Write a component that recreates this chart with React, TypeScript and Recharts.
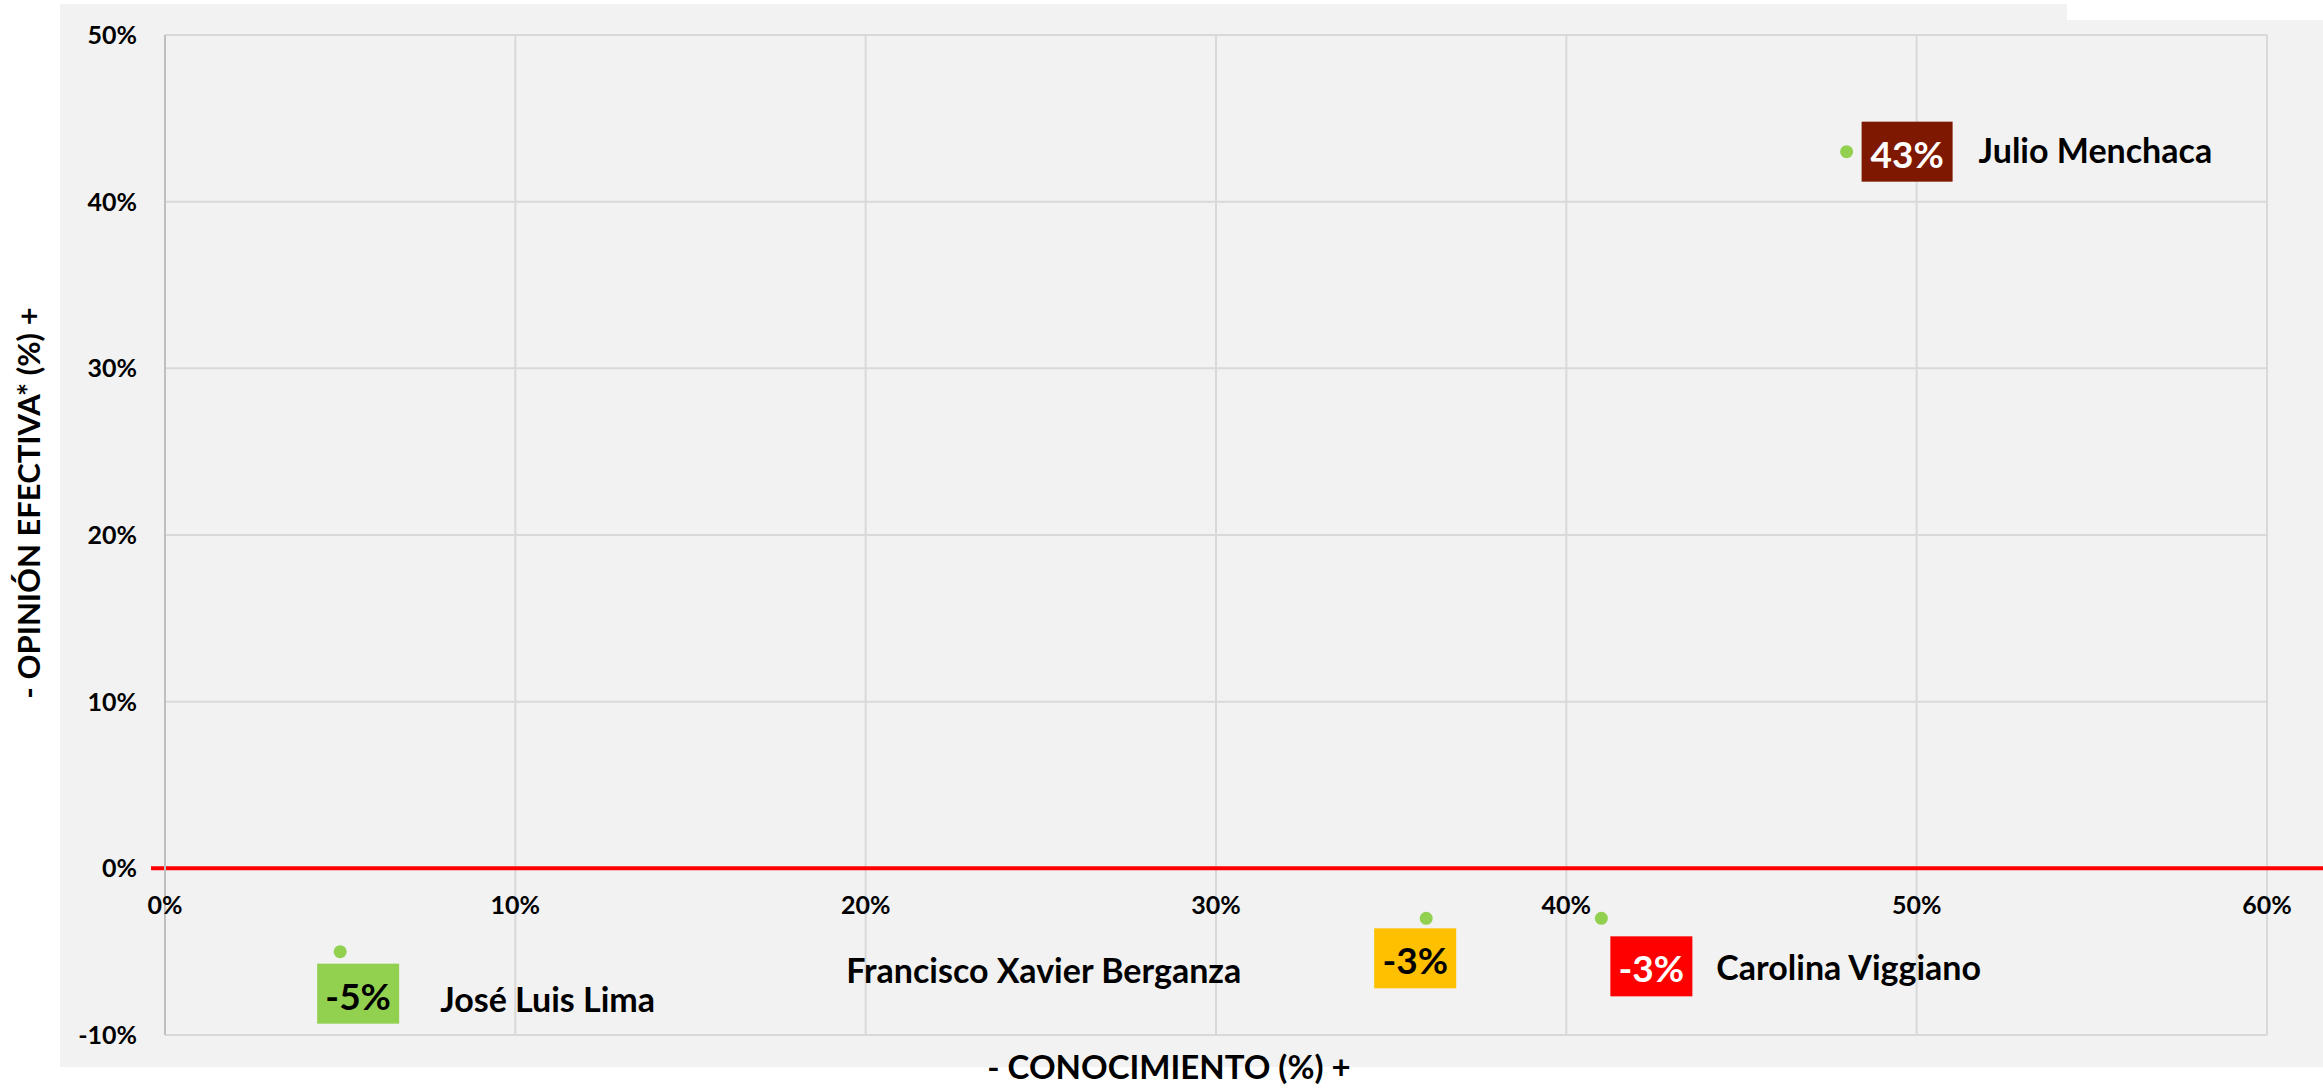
import { ScatterChart, Scatter, XAxis, YAxis, CartesianGrid, ReferenceLine } from 'recharts'

document.body.style.margin = '0'

// datos del gráfico
const candidatos = ['Julio Menchaca', 'José Luis Lima', 'Francisco Xavier Berganza', 'Carolina Viggiano']
const conocimiento = [48, 5, 36, 41]
const opinionEfectiva = [43, -5, -3, -3]
const etiquetas = ['43%', '-5%', '-3%', '-3%']
const xTicks = [0, 10, 20, 30, 40, 50, 60]
const yTicks = [-10, 0, 10, 20, 30, 40, 50]

// colores de cada etiqueta
const colorCaja = ['#7f1800', '#92d050', '#ffc000', '#ff0000']
const colorTexto = ['#ffffff', '#000000', '#000000', '#ffffff']

// posición de cajas y nombres respecto al punto (movidas a mano en el original)
const cajaOffset = [
  { dx: 15, dy: -30, w: 91 },
  { dx: -23, dy: 12, w: 82 },
  { dx: -52, dy: 10, w: 82 },
  { dx: 9, dy: 18, w: 82 },
]
const nombreOffset = [
  { dx: 132, dy: 11 },
  { dx: 100, dy: 60 },
  { dx: -580, dy: 65 },
  { dx: 115, dy: 62 },
]

const W = 2323
const H = 1090
const PLOT_TOP = 35
const PLOT_H = 1000
const FONT = 'Lato, "Open Sans", sans-serif'

const puntos = candidatos.map((nombre, i) => ({
  nombre,
  x: conocimiento[i],
  y: opinionEfectiva[i],
  etiqueta: etiquetas[i],
  i,
}))

const zeroY = PLOT_TOP + (PLOT_H * yTicks[yTicks.length - 1]) / (yTicks[yTicks.length - 1] - yTicks[0])

function Punto(props: any) {
  const { cx, cy, payload } = props
  const i = payload.i
  const caja = cajaOffset[i]
  const nom = nombreOffset[i]
  const bx = cx + caja.dx
  const by = cy + caja.dy
  return (
    <g>
      <circle cx={cx} cy={cy} r={6.5} fill="#92d050" />
      <rect x={bx} y={by} width={caja.w} height={60} fill={colorCaja[i]} />
      <text x={bx + caja.w / 2} y={by + 46} textAnchor="middle" fontFamily={FONT} fontWeight={700} fontSize={37} fill={colorTexto[i]}>
        {payload.etiqueta}
      </text>
      <text x={cx + nom.dx} y={cy + nom.dy} fontFamily={FONT} fontWeight={700} fontSize={34} fill="#000">
        {payload.nombre}
      </text>
    </g>
  )
}

function XTick(props: any) {
  const { x, payload } = props
  return (
    <text x={x} y={zeroY + 46} textAnchor="middle" fontFamily={FONT} fontWeight={700} fontSize={25} fill="#000">
      {payload.value}%
    </text>
  )
}

function YTitle() {
  const cy = 503
  return (
    <text x={28} y={cy} transform={`rotate(-90, 28, ${cy})`} textAnchor="middle" dominantBaseline="central" fontFamily={FONT} fontWeight={700} fontSize={31} fill="#000">
      - OPINIÓN EFECTIVA* (%) +
    </text>
  )
}

function XTitle() {
  return (
    <text x={1169} y={1066} textAnchor="middle" dominantBaseline="central" fontFamily={FONT} fontWeight={700} fontSize={33} fill="#000">
      - CONOCIMIENTO (%) +
    </text>
  )
}

export default function App() {
  return (
    <div style={{ position: 'relative', width: W, height: H, background: '#ffffff', overflow: 'hidden' }}>
      <div style={{ position: 'absolute', left: 60, top: 4, width: W - 60, height: 1063, background: '#f2f2f2' }} />
      <div style={{ position: 'absolute', left: 2067, top: 0, width: W - 2067, height: 20, background: '#ffffff' }} />
      <div style={{ position: 'absolute', left: 0, top: 0 }}>
        <ScatterChart width={W} height={H} margin={{ top: PLOT_TOP, right: 56, bottom: 25, left: 0 }}>
          <CartesianGrid stroke="#d9d9d9" strokeWidth={2} />
          <XAxis
            type="number"
            dataKey="x"
            domain={[0, 60]}
            ticks={xTicks}
            height={30}
            axisLine={false}
            tickLine={false}
            tick={<XTick />}
            label={{ content: <XTitle /> }}
          />
          <YAxis
            type="number"
            dataKey="y"
            domain={[-10, 50]}
            ticks={yTicks}
            width={165}
            tickSize={0}
            tickMargin={28}
            tickFormatter={(v) => `${v}%`}
            tick={{ fill: '#000', fontSize: 25, fontWeight: 700, fontFamily: FONT }}
            axisLine={{ stroke: '#bfbfbf', strokeWidth: 2 }}
            tickLine={false}
            label={{ content: <YTitle /> }}
          />
          <ReferenceLine
            y={0}
            stroke="#ff0000"
            strokeWidth={4}
            shape={(p: any) => <line x1={p.x1 - 14} y1={p.y1} x2={W} y2={p.y2} stroke="#ff0000" strokeWidth={4} />}
          />
          <Scatter data={puntos} shape={<Punto />} isAnimationActive={false} />
        </ScatterChart>
      </div>
    </div>
  )
}
